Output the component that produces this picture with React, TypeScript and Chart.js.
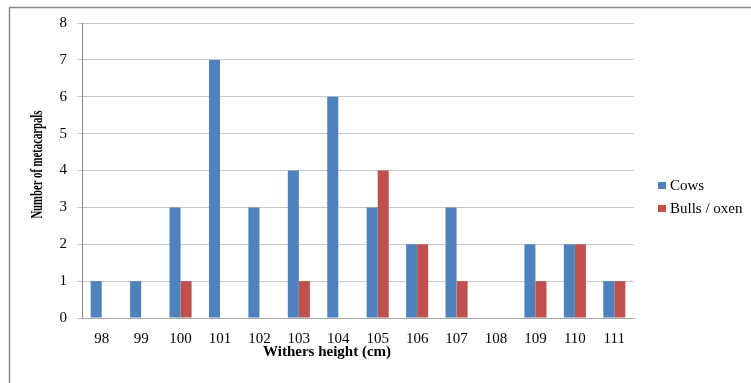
import React, { useEffect, useRef } from "react";
import { Chart, registerables } from "chart.js";

Chart.register(...registerables);

// Withers height classes (cm) and metacarpal counts per group
const heights = ["98", "99", "100", "101", "102", "103", "104", "105", "106", "107", "108", "109", "110", "111"];
const cows = [1, 1, 3, 7, 3, 4, 6, 3, 2, 3, 0, 2, 2, 1];
const bullsOxen = [0, 0, 1, 0, 0, 1, 0, 4, 2, 1, 0, 1, 2, 1];
const seriesNames = ["Cows", "Bulls / oxen"];
const seriesColors = ["#4F81BD", "#C0504D"];
const yTitle = "Number of metacarpals";
const xTitle = "Withers height (cm)";

const SERIF = "'Liberation Serif', 'Times New Roman', serif";

// Frame, axis titles and the side legend
const decorations = {
  id: "decorations",
  beforeDraw(chart: any) {
    const { ctx } = chart;
    ctx.save();
    ctx.fillStyle = "#ffffff";
    ctx.fillRect(0, 0, chart.width, chart.height);
    ctx.strokeStyle = "#8a8a8a";
    ctx.lineWidth = 1.5;
    ctx.strokeRect(9.5, 7.5, chart.width + 20, chart.height + 20);
    ctx.restore();
  },
  afterDraw(chart: any) {
    const { ctx, chartArea } = chart;
    ctx.save();
    ctx.fillStyle = "#000000";
    ctx.textAlign = "center";
    ctx.textBaseline = "middle";

    // y axis title, rotated and condensed to a 108px run
    ctx.save();
    ctx.font = `bold 16px ${SERIF}`;
    const w = ctx.measureText(yTitle).width;
    ctx.translate(38, chartArea.top + (chartArea.bottom - chartArea.top) * 0.48);
    ctx.rotate(-Math.PI / 2);
    ctx.scale(108 / w, 1);
    ctx.fillText(yTitle, 0, 0);
    ctx.restore();

    // x axis title
    ctx.font = `bold 15px ${SERIF}`;
    ctx.fillText(xTitle, chartArea.left + chartArea.width * 0.444, chartArea.bottom + 34);

    // legend
    ctx.textAlign = "left";
    ctx.font = `15px ${SERIF}`;
    const lx = chartArea.right + 24;
    const ly = [185, 208];
    chart.data.datasets.forEach((ds: any, i: number) => {
      ctx.fillStyle = ds.backgroundColor;
      ctx.fillRect(lx, ly[i] - 3, 8, 7);
      ctx.fillStyle = "#000000";
      ctx.fillText(ds.label, lx + 12, ly[i] + 1);
    });
    ctx.restore();
  },
};

export default function App() {
  const canvasRef = useRef<HTMLCanvasElement | null>(null);

  useEffect(() => {
    const canvas = canvasRef.current;
    if (!canvas) return;
    const chart = new Chart(canvas, {
      type: "bar",
      data: {
        labels: heights,
        datasets: [
          { label: seriesNames[0], data: cows, backgroundColor: seriesColors[0] },
          { label: seriesNames[1], data: bullsOxen, backgroundColor: seriesColors[1] },
        ],
      },
      options: {
        responsive: false,
        animation: false,
        devicePixelRatio: 1,
        layout: { padding: { top: 23, right: 117, left: 0, bottom: 0 } },
        datasets: {
          bar: { barPercentage: 1, categoryPercentage: 0.56, borderWidth: 0 },
        },
        plugins: {
          legend: { display: false },
          tooltip: { enabled: false },
          title: { display: false },
        },
        scales: {
          x: {
            grid: { display: false, drawTicks: false },
            border: { display: true, color: "#a6a6a6", width: 1 },
            ticks: { color: "#000", font: { family: SERIF, size: 15 }, padding: 12, maxRotation: 0 },
            afterFit(scale: any) {
              scale.height = 65;
            },
          },
          y: {
            min: 0,
            max: 8,
            ticks: { stepSize: 1, color: "#000", font: { family: SERIF, size: 15 }, padding: 10 },
            grid: { color: "#c8c8c8", lineWidth: 1, tickLength: 5, drawTicks: true },
            border: { display: true, color: "#8a8a8a", width: 1 },
            afterFit(scale: any) {
              scale.width = 82;
            },
          },
        },
      },
      plugins: [decorations],
    });
    return () => chart.destroy();
  }, []);

  return (
    <div style={{ position: "fixed", left: 0, top: 0, width: 751, height: 383, background: "#fff" }}>
      <canvas ref={canvasRef} width={751} height={383} style={{ display: "block", width: 751, height: 383 }} />
    </div>
  );
}
